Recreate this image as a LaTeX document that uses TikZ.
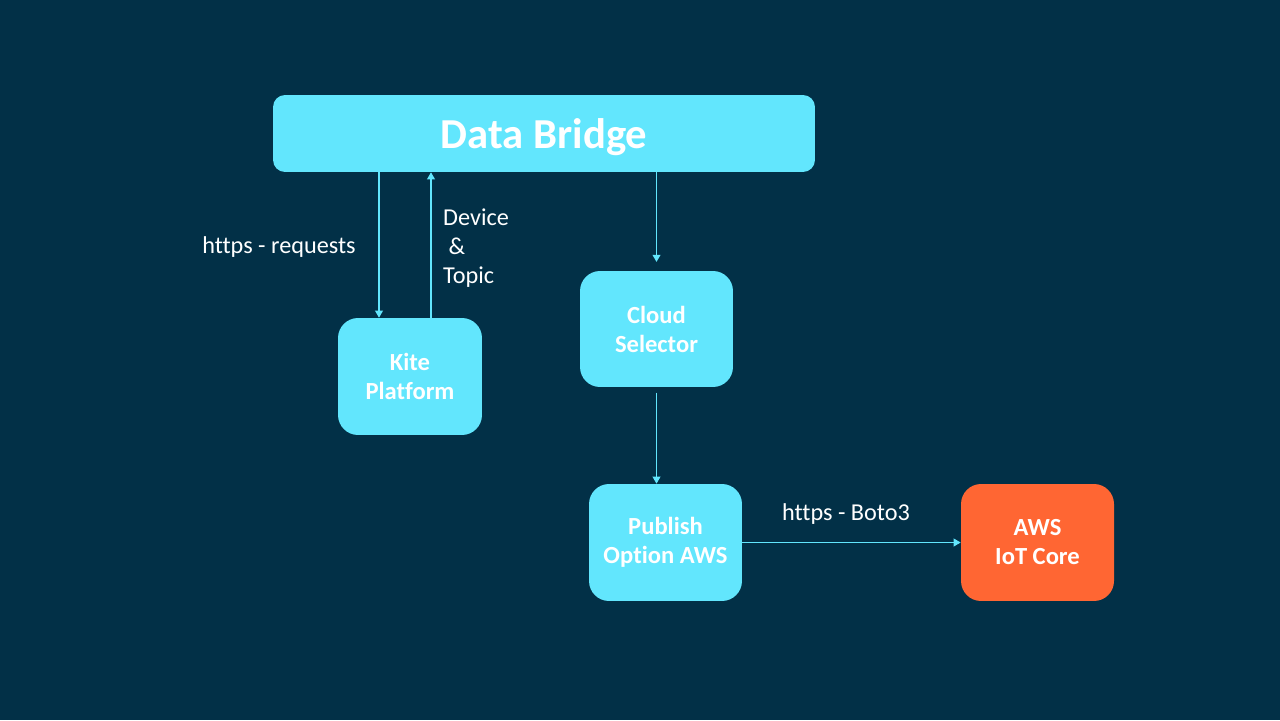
\documentclass[tikz,border=0pt]{standalone}
\usepackage{fontspec}
\setmainfont{Carlito}[Ligatures=NoCommon]
\usetikzlibrary{arrows.meta}

\definecolor{slide}{RGB}{2,48,71}
\definecolor{sky}{RGB}{98,230,253}
\definecolor{flame}{RGB}{255,102,51}

\tikzset{
  box/.style={fill=sky, text=white, rounded corners=0.4cm, inner sep=0pt,
    align=center, font=\bfseries\fontsize{14}{16.5}\selectfont,
    minimum width=3.06cm, minimum height=2.34cm},
  flow/.style={draw=sky, line width=0.6pt, -{Triangle[length=4pt,width=4.5pt]}},
  note/.style={text=white, font=\fontsize{13.8}{16.5}\selectfont}
}

\begin{document}
\begin{tikzpicture}[x=0.02cm, y=-0.02cm]

\fill [slide] (0,0) rectangle (1280,720);

\node [box, rounded corners=0.24cm, minimum width=10.84cm, minimum height=1.54cm,
  font=\bfseries\fontsize{24.3}{28}\selectfont] (bridge) at (544,133.5)
  {\raisebox{-2.3pt}[\height][\depth]{Data Bridge}};
\node [box, minimum width=2.88cm] (kite) at (410,376.5) {Kite\\Platform};
\node [box, minimum height=2.32cm] (cloud) at (656.5,329) {Cloud\\Selector};
\node [box] (publish) at (665.5,542.5) {Publish\\Option AWS};
\node [box, fill=flame] (aws) at (1037.5,542.5) {AWS\\IoT Core};

% kite platform
\draw [flow] ([xshift=-0.62cm]kite.north |- bridge.south) -- ([xshift=-0.62cm]kite.north);
\draw [flow] ([xshift=0.42cm]kite.north) -- ([xshift=0.42cm]kite.north |- bridge.south);
\node [note] (req) at (279,247) {https - requests};
\node [note, anchor=west, align=left] (topic) at (437,248) {Device\\\ \&\\Topic};

% cloud path
\draw [flow, shorten >=5pt] (cloud.north |- bridge.south) -- (cloud.north);
\draw [flow, shorten <=3pt] (cloud.south) -- (cloud.south |- publish.north);
\draw [flow] (publish.east) -- (aws.west);
\node [note] (boto) at (846,514) {https - Boto3};

\end{tikzpicture}
\end{document}
